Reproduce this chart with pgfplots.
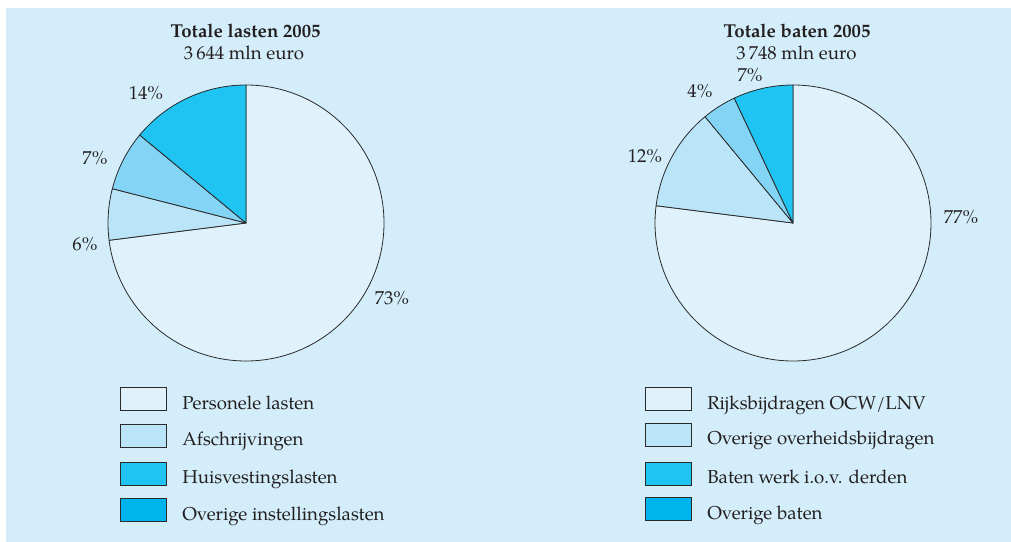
\documentclass[border=0pt]{standalone}
\usepackage{pgfplots}
\pgfplotsset{compat=1.18}
\usepackage{fontspec}
\setmainfont{texgyrepagella}[Extension=.otf, UprightFont=*-regular, BoldFont=*-bold, ItalicFont=*-italic, BoldItalicFont=*-bolditalic]
\definecolor{bg}{HTML}{D3EEFA}
\definecolor{ca}{HTML}{DFF2FC}
\definecolor{cb}{HTML}{BAE5F8}
\definecolor{cc}{HTML}{84D4F6}
\definecolor{cd}{HTML}{1FC4F2}
\definecolor{ce}{HTML}{00B4EE}
\definecolor{edgec}{HTML}{2A2A2A}
\definecolor{txt}{HTML}{231F20}
\newcommand{\R}{103.5pt}
% start (cumulative percent), value (percent), colour
\newcommand{\pieslice}[3]{%
  \filldraw[fill=#3, draw=edgec, line width=0.6pt, line join=round]
    (axis cs:0,0) -- ++({90-(#1)*3.6}:\R)
    arc[start angle={90-(#1)*3.6}, delta angle={-(#2)*3.6}, radius=\R] -- cycle;}
\begin{document}
\begin{tikzpicture}[every node/.style={text=txt, font=\fontsize{14}{16}\selectfont}]
\path[use as bounding box] (0,0) rectangle (758.25pt,-406.5pt);
\fill[bg] (4.5pt,-6pt) rectangle (758.25pt,-406.5pt);

% Left pie: Totale lasten 2005
\begin{axis}[hide axis, clip=false, x=103.5pt, y=103.5pt,
  xmin=-1, xmax=1, ymin=-1, ymax=1, anchor=center, at={(184.5pt,-167.25pt)}]
  \pieslice{0}{73}{ca}
  \pieslice{73}{6}{cb}
  \pieslice{79}{7}{cc}
  \pieslice{86}{14}{cd}
\end{axis}

% Right pie: Totale baten 2005
\begin{axis}[hide axis, clip=false, x=103.5pt, y=103.5pt,
  xmin=-1, xmax=1, ymin=-1, ymax=1, anchor=center, at={(594.75pt,-167.25pt)}]
  \pieslice{0}{77}{ca}
  \pieslice{77}{12}{cb}
  \pieslice{89}{4}{cc}
  \pieslice{93}{7}{cd}
\end{axis}

\begin{scope}[x=0.75pt, y=-0.75pt]
% titles
\node[font=\fontsize{14}{16}\selectfont\bfseries] at (245.5,31) {Totale lasten 2005};
\node at (244,53) {3\,644 mln euro};
\node[font=\fontsize{14}{16}\selectfont\bfseries] at (797,31) {Totale baten 2005};
\node at (796.5,53) {3\,748 mln euro};
% percent labels
\node at (146,93) {14\%};
\node at (95,158) {7\%};
\node at (85,244) {6\%};
\node at (392,298) {73\%};
\node at (961,217) {77\%};
\node at (645,156) {12\%};
\node at (700,91) {4\%};
\node at (750,75) {7\%};
% left legend
\foreach \y/\c/\t in {399/ca/{Personele lasten}, 435.5/cb/{Afschrijvingen}, 473.5/cd/{Huisvestingslasten}, 510/ce/{Overige instellingslasten}}{
  \filldraw[fill=\c, draw=edgec, line width=0.5pt] (120,\y-11.5) rectangle (166,\y+11.5);
  \node[anchor=base west, inner sep=0pt] at (182,\y+10) {\t};
}
% right legend
\foreach \y/\c/\t in {399/ca/{Rijksbijdragen OCW/LNV}, 434.5/cb/{Overige overheidsbijdragen}, 473.5/cd/{Baten werk i.o.v. derden}, 509/ce/{Overige baten}}{
  \filldraw[fill=\c, draw=edgec, line width=0.5pt] (645,\y-11.5) rectangle (691,\y+11.5);
  \node[anchor=base west, inner sep=0pt] at (707,\y+10) {\t};
}
\end{scope}
\end{tikzpicture}
\end{document}
